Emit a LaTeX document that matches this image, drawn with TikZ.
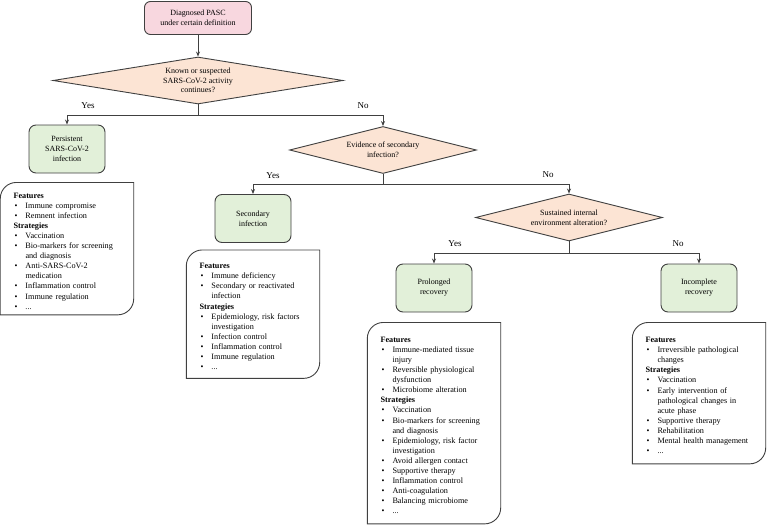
\documentclass[tikz,border=0pt]{standalone}
\usepackage{fontspec}
\setmainfont{Liberation Serif}
\usetikzlibrary{arrows.meta,positioning,shapes.geometric}
\definecolor{Edge}{HTML}{404040}
\definecolor{SoftPink}{HTML}{F8D7DF}
\definecolor{SoftPeach}{HTML}{FCE4D4}
\definecolor{SoftGreen}{HTML}{E2F0D9}
\newcommand{\bul}[1]{\par\noindent\hangindent=12pt\hangafter=1\makebox[12pt][l]{\hspace{1pt}\textbullet}#1}
\newcommand{\head}[1]{\par\noindent\textbf{#1}}
\tikzset{
 startbox/.style={draw=Edge, line width=0.9pt, rounded corners=6pt, fill=SoftPink, minimum width=107pt, minimum height=33pt, align=center, font=\fontsize{8}{10}\selectfont},
 decision/.style={diamond, draw=Edge, line width=0.9pt, fill=SoftPeach, aspect=4, inner sep=0pt, align=center, font=\fontsize{8}{9.7}\selectfont},
 outcome/.style={draw=Edge, line width=0.9pt, rounded corners=7pt, fill=SoftGreen, minimum width=76pt, minimum height=48pt, align=center, font=\fontsize{8}{10}\selectfont},
 notebox/.style={text width=107pt, inner xsep=13pt, inner ysep=4pt, align=left, font=\fontsize{8.2}{10.1}\selectfont},
 arrow/.style={-{Stealth[length=5pt,width=4pt]}, line width=0.9pt, draw=Edge},
 link/.style={line width=0.9pt, draw=Edge},
 answer/.style={font=\fontsize{9}{10}\selectfont}
}
\begin{document}
\begin{tikzpicture}[x=1pt,y=-1pt]
\useasboundingbox (0,0) rectangle (767,524);
% decisions and outcomes
\node[startbox] (pasc) at (198,18) {Diagnosed PASC\\under certain definition};
\node[decision, minimum width=290pt, minimum height=47pt] (active) at (198,80.5) {Known or suspected\\SARS-CoV-2 activity\\continues?};
\node[outcome] (persist) at (67,149) {Persistent\\SARS-CoV-2\\infection};
\node[decision, minimum width=187pt, minimum height=47pt] (evidence) at (383,150) {Evidence of secondary\\infection?};
\node[outcome] (second) at (253,218.5) {Secondary\\infection};
\node[decision, minimum width=187pt, minimum height=47pt] (sustain) at (569,217.5) {Sustained internal\\environment alteration?};
\node[outcome] (prolong) at (434,288) {Prolonged\\recovery};
\node[outcome] (incomplete) at (699,288) {Incomplete\\recovery};
\coordinate (j1) at (198,115);
\coordinate (j2) at (383,184);
\coordinate (j3) at (569,253);
% connectors
\draw[arrow] (pasc) -- (active);
\draw[link] (active.south) -- (j1);
\draw[arrow] (j1) -| (persist.north);
\draw[arrow] (j1) -| (evidence.north);
\draw[link] (evidence.south) -- (j2);
\draw[arrow] (j2) -| (second.north);
\draw[arrow] (j2) -| (sustain.north);
\draw[link] (sustain.south) -- (j3);
\draw[arrow] (j3) -| (prolong.north);
\draw[arrow] (j3) -| (incomplete.north);
\node[answer] (yes1) at (88,106) {Yes};
\node[answer] (no1) at (363,106) {No};
\node[answer] (yes2) at (273,176) {Yes};
\node[answer] (no2) at (548,175) {No};
\node[answer] (yes3) at (455,244) {Yes};
\node[answer] (no3) at (678,244) {No};
% notes
\node[notebox, minimum height=132pt, below=9pt of persist] (persistnote) {%
\head{Features}
\bul{Immune compromise}
\bul{Remnent infection}
\head{Strategies}
\bul{Vaccination}
\bul{Bio-markers for screening\break and diagnosis}
\bul{Anti-SARS-CoV-2\break medication}
\bul{Inflammation control}
\bul{Immune regulation}
\bul{...}};
\node[notebox, minimum height=128pt, below=7pt of second] (secondnote) {%
\head{Features}
\bul{Immune deficiency}
\bul{Secondary or reactivated\break infection}
\head{Strategies}
\bul{Epidemiology, risk factors\break investigation}
\bul{Infection control}
\bul{Inflammation control}
\bul{Immune regulation}
\bul{...}};
\node[notebox, minimum height=201pt, below=10pt of prolong] (prolongnote) {%
\head{Features}
\bul{Immune-mediated tissue\break injury}
\bul{Reversible physiological\break dysfunction}
\bul{Microbiome alteration}
\head{Strategies}
\bul{Vaccination}
\bul{Bio-markers for screening\break and diagnosis}
\bul{Epidemiology, risk factor\break investigation}
\bul{Avoid allergen contact}
\bul{Supportive therapy}
\bul{Inflammation control}
\bul{Anti-coagulation}
\bul{Balancing microbiome}
\bul{...}};
\node[notebox, minimum height=141pt, below=10pt of incomplete] (incompletenote) {%
\head{Features}
\bul{Irreversible pathological\break changes}
\head{Strategies}
\bul{Vaccination}
\bul{Early intervention of\break pathological changes in\break acute phase}
\bul{Supportive therapy}
\bul{Rehabilitation}
\bul{Mental health management}
\bul{...}};
% outlines: round top-left and bottom-right corners only
\foreach \n in {persistnote,secondnote,prolongnote,incompletenote}
  \draw[link] (\n.south west) -- ([yshift=-16pt]\n.north west)
    arc[start angle=180, end angle=90, radius=16pt] -- (\n.north east)
    -- ([yshift=16pt]\n.south east)
    arc[start angle=0, end angle=-90, radius=16pt] -- cycle;
\end{tikzpicture}
\end{document}
